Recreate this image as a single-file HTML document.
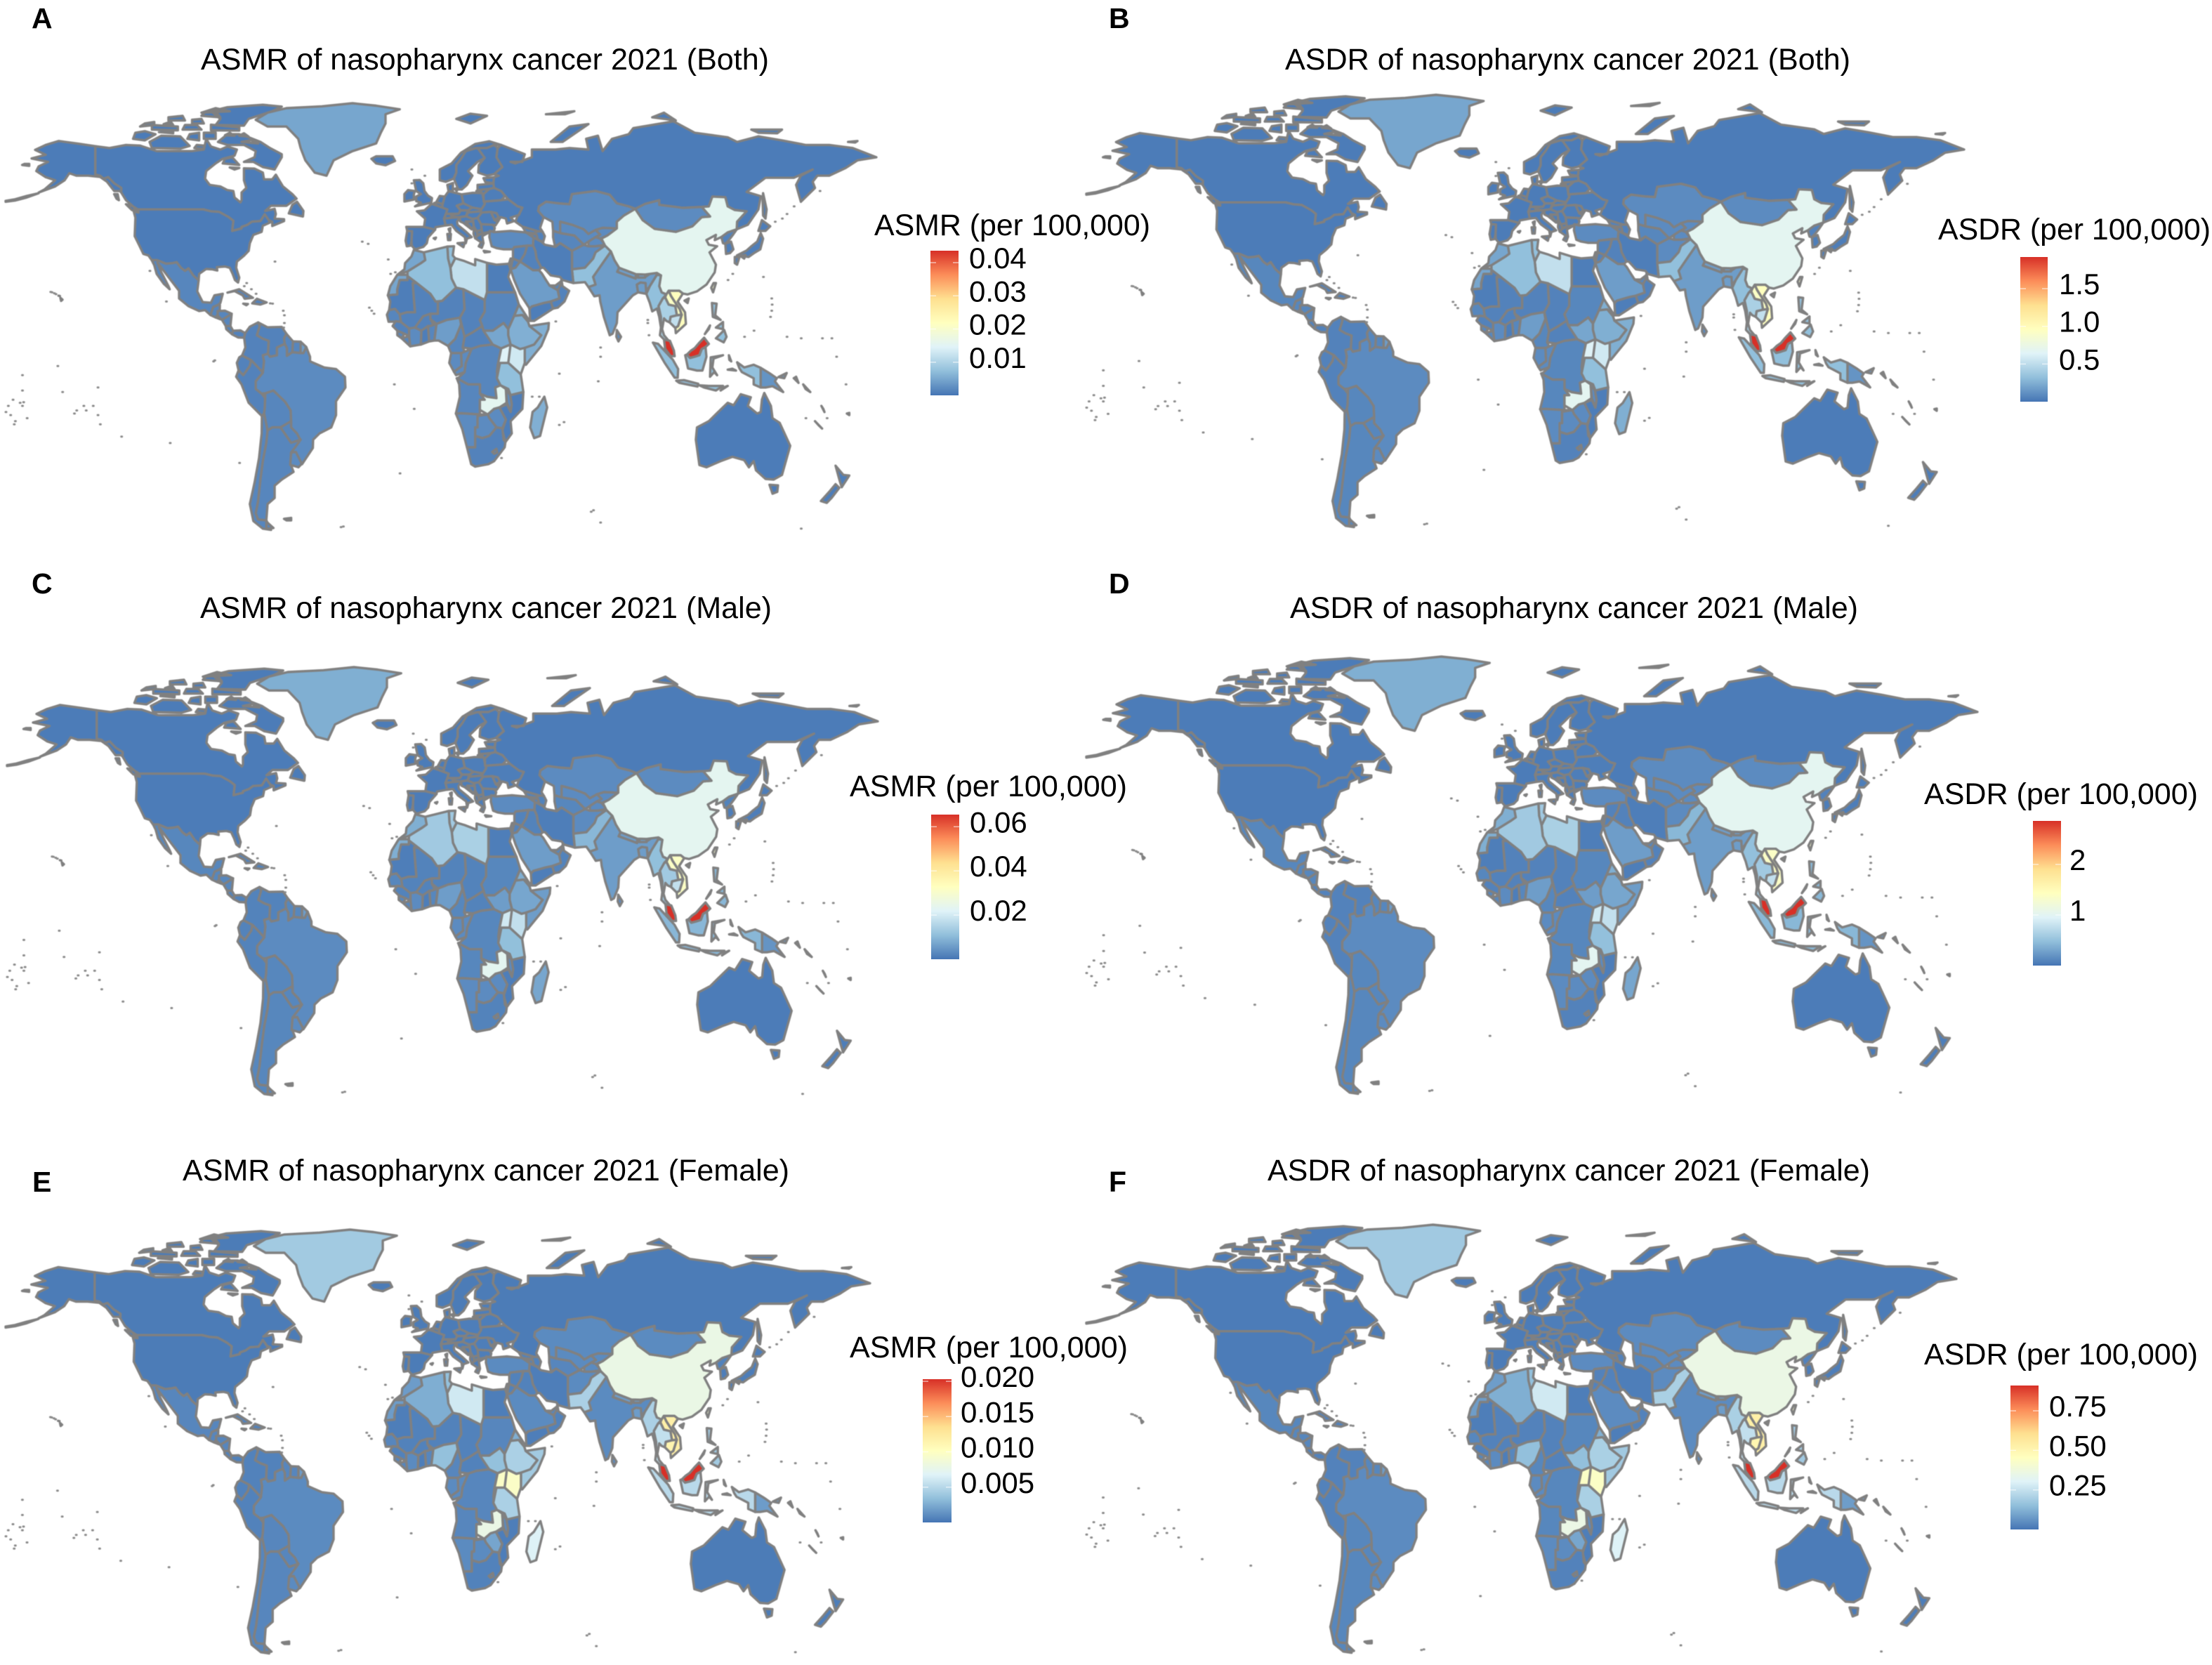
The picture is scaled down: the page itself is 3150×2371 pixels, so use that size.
<!DOCTYPE html>
<html lang="en">
<head>
<meta charset="utf-8">
<title>ASMR and ASDR of nasopharynx cancer 2021</title>
<style>
html,body{margin:0;padding:0;background:#fff;}
svg{display:block;}
text{font-family:"Liberation Sans",Arial,sans-serif;fill:#000;}
.title{font-size:43px;}
.legend-title{font-size:43px;}
.letter{font-size:41px;font-weight:bold;}
.tick{font-size:42px;}
</style>
</head>
<body>
<svg id="figure" xmlns="http://www.w3.org/2000/svg" width="3150" height="2371" viewBox="0 0 3150 2371">
<defs>
<linearGradient id="rdylbu" x1="0" y1="1" x2="0" y2="0">
<stop offset="0" stop-color="#4575b4"/><stop offset="0.1667" stop-color="#91bfdb"/><stop offset="0.3333" stop-color="#e0f3f8"/><stop offset="0.5" stop-color="#ffffbf"/><stop offset="0.6667" stop-color="#fee090"/><stop offset="0.8333" stop-color="#fc8d59"/><stop offset="1" stop-color="#d73027"/>
</linearGradient>
</defs>
<rect width="3150" height="2371" fill="#fff"/>

<g id="panel-0">
<text class="letter" x="45" y="40">A</text>
<text class="title" x="286" y="99" textLength="809" lengthAdjust="spacingAndGlyphs">ASMR of nasopharynx cancer 2021 (Both)</text>
<text class="legend-title" x="1245" y="335" textLength="393" lengthAdjust="spacingAndGlyphs">ASMR (per 100,000)</text>
</g>
<g id="panel-1">
<text class="letter" x="1579" y="40">B</text>
<text class="title" x="1830" y="99" textLength="805" lengthAdjust="spacingAndGlyphs">ASDR of nasopharynx cancer 2021 (Both)</text>
<text class="legend-title" x="2760" y="341" textLength="388" lengthAdjust="spacingAndGlyphs">ASDR (per 100,000)</text>
</g>
<g id="panel-2">
<text class="letter" x="45" y="845">C</text>
<text class="title" x="285" y="880" textLength="814" lengthAdjust="spacingAndGlyphs">ASMR of nasopharynx cancer 2021 (Male)</text>
<text class="legend-title" x="1210" y="1134" textLength="395" lengthAdjust="spacingAndGlyphs">ASMR (per 100,000)</text>
</g>
<g id="panel-3">
<text class="letter" x="1579" y="845">D</text>
<text class="title" x="1837" y="880" textLength="809" lengthAdjust="spacingAndGlyphs">ASDR of nasopharynx cancer 2021 (Male)</text>
<text class="legend-title" x="2740" y="1145" textLength="390" lengthAdjust="spacingAndGlyphs">ASDR (per 100,000)</text>
</g>
<g id="panel-4">
<text class="letter" x="46" y="1697">E</text>
<text class="title" x="260" y="1681" textLength="864" lengthAdjust="spacingAndGlyphs">ASMR of nasopharynx cancer 2021 (Female)</text>
<text class="legend-title" x="1210" y="1933" textLength="396" lengthAdjust="spacingAndGlyphs">ASMR (per 100,000)</text>
</g>
<g id="panel-5">
<text class="letter" x="1579" y="1697">F</text>
<text class="title" x="1805" y="1681" textLength="858" lengthAdjust="spacingAndGlyphs">ASDR of nasopharynx cancer 2021 (Female)</text>
<text class="legend-title" x="2740" y="1943" textLength="390" lengthAdjust="spacingAndGlyphs">ASDR (per 100,000)</text>
</g>
</svg>

<script>
/* ---------- chart data: one value per country ---------- */
const countries = [
"canada","usa","mexico","guatemala","honduras","el-salvador","nicaragua","costa-rica","panama","cuba",
"hispaniola","jamaica","colombia","venezuela","guyana","suriname","french-guiana","ecuador","peru","bolivia",
"chile","argentina","paraguay","uruguay","brazil","greenland","iceland","norway","sweden","finland",
"denmark","uk","ireland","france","spain","portugal","belgium","netherlands","germany","switzerland",
"austria","italy","poland","czechia","slovakia","hungary","croatia","bosnia","serbia","albania",
"north-macedonia","greece","bulgaria","romania","moldova","ukraine","belarus","lithuania","latvia","estonia",
"russia","turkey","georgia","armenia","azerbaijan","kazakhstan","uzbekistan","turkmenistan","kyrgyzstan","tajikistan",
"afghanistan","pakistan","iran","iraq","syria","jordan","israel","saudi-arabia","yemen","oman",
"uae","egypt","libya","tunisia","algeria","morocco","western-sahara","mauritania","mali","niger",
"chad","senegal","guinea","sierra-leone","liberia","cote-divoire","burkina-faso","ghana","togo-benin","nigeria",
"cameroon","central-african-republic","gabon","congo","dr-congo","sudan","south-sudan","eritrea","ethiopia","somalia",
"kenya","uganda","rwanda-burundi","tanzania","angola","zambia","malawi","mozambique","zimbabwe","namibia",
"botswana","south-africa","lesotho","madagascar","sri-lanka","india","nepal","bhutan","bangladesh","china",
"mongolia","taiwan","north-korea","south-korea","japan","myanmar","thailand","laos","vietnam","cambodia",
"malaysia","indonesia","papua-new-guinea","philippines","australia","new-zealand","new-caledonia"];

const asmrBoth = [
.0007,.0007,.0017,.0017,.0017,.0017,.0017,.0013,.0013,.0013,
.0013,.0013,.0013,.0013,.0017,.0017,.0039,.0013,.0013,.0017,
.0017,.0017,.0017,.0022,.0022,.0048,.0007,.0007,.0007,.0007,
.0007,.0007,.0007,.0007,.0007,.0007,.0007,.0007,.0007,.0007,
.0007,.0009,.0009,.0009,.0009,.0009,.0009,.0009,.0009,.0009,
.0009,.0009,.0009,.0009,.0009,.0009,.0009,.0009,.0009,.0009,
.0007,.0022,.0013,.0013,.0013,.0022,.0022,.0017,.0022,.0022,
.0022,.0074,.0009,.0013,.0013,.0013,.0013,.0039,.0009,.0013,
.0017,.0009,.0118,.0074,.0074,.0048,.0048,.0009,.0013,.0013,
.0013,.0017,.0013,.0017,.0017,.0022,.0013,.0009,.0017,.0039,
.0017,.0013,.0022,.0022,.0017,.0017,.0048,.0057,.0057,.0057,
.0131,.0144,.0017,.0074,.0017,.0155,.0022,.0009,.0022,.0022,
.0022,.0013,.0017,.0057,.0022,.0039,.0039,.0039,.0039,.0155,
.0022,.0196,.0013,.0009,.0009,.0074,.0096,.0209,.0218,.0118,
.0436,.0074,.003,.0074,.0007,.0009,.0013];

const asdrBoth = [
.029,.029,.077,.077,.077,.077,.077,.058,.058,.058,
.058,.058,.058,.058,.077,.077,.173,.058,.058,.077,
.077,.077,.077,.096,.096,.211,.029,.029,.029,.029,
.029,.029,.029,.029,.029,.029,.029,.029,.029,.029,
.029,.038,.038,.038,.038,.038,.038,.038,.038,.038,
.038,.038,.038,.038,.038,.038,.038,.038,.038,.038,
.029,.096,.058,.058,.058,.096,.096,.077,.096,.096,
.096,.326,.038,.058,.058,.058,.058,.173,.038,.058,
.077,.038,.518,.326,.326,.211,.211,.038,.058,.058,
.058,.077,.058,.077,.077,.096,.058,.038,.077,.173,
.077,.058,.096,.096,.077,.077,.211,.25,.25,.25,
.576,.634,.077,.326,.077,.682,.096,.038,.096,.096,
.096,.058,.077,.25,.096,.173,.173,.173,.173,.682,
.096,.864,.058,.038,.038,.326,.422,.92,.96,.518,
1.92,.326,.134,.326,.029,.038,.058];

const asmrMale = [
.001,.001,.0026,.0026,.0026,.0026,.0026,.002,.002,.002,
.002,.002,.002,.002,.0026,.0026,.0059,.002,.002,.0026,
.0026,.0026,.0026,.0033,.0033,.0085,.001,.001,.001,.001,
.001,.001,.001,.001,.001,.001,.001,.001,.001,.001,
.001,.0013,.0013,.0013,.0013,.0013,.0013,.0013,.0013,.0013,
.0013,.0013,.0013,.0013,.0013,.0013,.0013,.0013,.0013,.0013,
.001,.0033,.002,.002,.002,.0033,.0033,.0026,.0033,.0033,
.0033,.0098,.0013,.002,.002,.002,.002,.0059,.0013,.002,
.0026,.0013,.0144,.0131,.0131,.0085,.0085,.0013,.002,.002,
.002,.0026,.002,.0026,.0026,.0033,.002,.0013,.0026,.0059,
.0026,.002,.0033,.0033,.0026,.0026,.0059,.0085,.0072,.0059,
.0177,.0197,.0026,.0111,.0026,.0233,.0033,.0013,.0033,.0033,
.0033,.002,.0026,.0072,.0033,.0059,.0059,.0059,.0059,.0233,
.0033,.0295,.002,.0013,.0013,.0111,.0131,.0314,.0314,.0177,
.0655,.0098,.0046,.0098,.001,.0013,.002];

const asdrMale = [
.043,.043,.114,.114,.114,.114,.114,.086,.086,.086,
.086,.086,.086,.086,.114,.114,.257,.086,.086,.114,
.114,.114,.114,.143,.143,.372,.043,.043,.043,.043,
.043,.043,.043,.043,.043,.043,.043,.043,.043,.043,
.043,.057,.057,.057,.057,.057,.057,.057,.057,.057,
.057,.057,.057,.057,.057,.057,.057,.057,.057,.057,
.043,.143,.086,.086,.086,.143,.143,.114,.143,.143,
.143,.429,.057,.086,.086,.086,.086,.257,.057,.086,
.114,.057,.629,.572,.572,.372,.372,.057,.086,.086,
.086,.114,.086,.114,.114,.143,.086,.057,.114,.257,
.114,.086,.143,.143,.114,.114,.257,.372,.315,.257,
.772,.858,.114,.486,.114,1.015,.143,.057,.143,.143,
.143,.086,.114,.315,.143,.257,.257,.257,.257,1.015,
.143,1.29,.086,.057,.057,.486,.572,1.37,1.37,.772,
2.86,.429,.2,.429,.043,.057,.086];

const asmrFemale = [
.0003,.0003,.0008,.0008,.0008,.0008,.0008,.0006,.0006,.0006,
.0006,.0006,.0006,.0006,.0008,.0008,.0018,.0006,.0006,.0008,
.0008,.0008,.0008,.001,.001,.0041,.0003,.0003,.0003,.0003,
.0003,.0003,.0003,.0003,.0003,.0003,.0003,.0003,.0003,.0003,
.0003,.0004,.0004,.0004,.0004,.0004,.0004,.0004,.0004,.0004,
.0004,.0004,.0004,.0004,.0004,.0004,.0004,.0004,.0004,.0004,
.0003,.001,.0006,.0006,.0006,.001,.001,.0008,.001,.001,
.001,.0045,.0004,.0006,.0006,.0006,.0006,.001,.0004,.0006,
.0008,.0004,.0061,.0035,.0026,.0018,.0018,.0004,.0006,.0006,
.0006,.0008,.0006,.0008,.0008,.001,.0006,.0004,.0008,.0035,
.0008,.0006,.001,.001,.0008,.0008,.0035,.0026,.0045,.0041,
.0097,.0097,.0008,.0045,.0008,.0079,.001,.0004,.0022,.001,
.001,.0006,.0008,.0067,.001,.001,.0018,.0018,.0018,.0079,
.001,.0091,.0006,.0004,.0004,.0045,.0055,.0118,.0118,.0112,
.0203,.0051,.0018,.0041,.0003,.0004,.0006];

const asdrFemale = [
.014,.014,.036,.036,.036,.036,.036,.027,.027,.027,
.027,.027,.027,.027,.036,.036,.082,.027,.027,.036,
.036,.036,.036,.046,.046,.182,.014,.014,.014,.014,
.014,.014,.014,.014,.014,.014,.014,.014,.014,.014,
.014,.018,.018,.018,.018,.018,.018,.018,.018,.018,
.018,.018,.018,.018,.018,.018,.018,.018,.018,.018,
.014,.046,.027,.027,.027,.046,.046,.036,.046,.046,
.046,.2,.018,.027,.027,.027,.027,.046,.018,.027,
.036,.018,.273,.155,.118,.082,.082,.018,.027,.027,
.027,.036,.027,.036,.036,.046,.027,.018,.036,.155,
.036,.027,.046,.046,.036,.036,.155,.118,.2,.182,
.437,.437,.036,.2,.036,.355,.046,.018,.1,.046,
.046,.027,.036,.3,.046,.046,.082,.082,.082,.355,
.046,.41,.027,.018,.018,.2,.246,.528,.528,.5,
.91,.228,.082,.182,.014,.018,.027];

/* legend scales */
const domainMax = [.0436,1.92,.0655,2.86,.0203,.91];
const tickValues = [[.01,.02,.03,.04],[.5,1,1.5],[.02,.04,.06],[1,2],[.005,.01,.015,.02],[.25,.5,.75]];
const tickLabels = [["0.01","0.02","0.03","0.04"],["0.5","1.0","1.5"],["0.02","0.04","0.06"],["1","2"],["0.005","0.010","0.015","0.020"],["0.25","0.50","0.75"]];
const panelSeries = [asmrBoth,asdrBoth,asmrMale,asdrMale,asmrFemale,asdrFemale];
const palette = [[69,117,180],[145,191,219],[224,243,248],[255,255,191],[254,224,144],[252,141,89],[215,48,39]];

/* geography: lon,lat rings per country ("|" separates rings) */
const countryShapes = [
"-141,69.6 -135,69 -128,70 -122,69.8 -115,68 -108,68 -100,68 -95,68.5 -94,72 -92,69.5 -88,68.5 -85,69.5 -81,68.5 -82,66.5 -87,65.5 -90,64 -94,61.5 -94.5,59 -92.5,57 -88,56.5 -85,55.3 -82.5,55 -82,52.9 -79.5,51.3 -79,52 -79,54.5 -77,56 -78,58.5 -78,62.4 -73.5,62.3 -70,61 -69.5,58.8 -66,58.8 -64.5,60.3 -61.5,56.5 -57.5,54 -55.7,52.5 -60,50.2 -66.5,50.2 -69,48.5 -65,49.2 -64.5,47.5 -65,46 -61,45.8 -61,45.2 -66,43.6 -66,45 -67.5,45.5 -69.2,47.4 -71,45.2 -74.7,45 -76.5,44 -79,43.3 -79,42.8 -83,42 -82.5,45.3 -84.5,46.5 -88.5,48.2 -92,48.4 -95.2,49 -123,49 -125,50 -128,52 -130,54.5 -133,57 -135.5,59.5 -137.5,59 -139,60 -141,60.3|-62,66 -65,62 -70,62.8 -74,64.5 -78,64.5 -73.5,66 -73,68 -78,70 -85,70 -89,71 -85,73.5 -80,73.5 -76,72.5 -71,71 -67,69 -62,67|-117,69 -105,68.8 -101,69.7 -105,72.8 -113,73 -118,71|-125,72 -120,71.5 -115.5,73.5 -120,74.5 -124,74|-90,76.5 -78,76.3 -76,78.5 -66,81 -62,82.5 -70,83.1 -85,82.3 -92,81 -88,78.5|-92,74.8 -80,74.7 -80,75.7 -92,76.6|-96,79.5 -88,79 -90,81 -94,81|-95,72 -90,72 -90,74 -95,74|-117,75 -106,74.8 -106,76 -117,76.5|-122,76 -116,76.5 -116,77.5 -120,77|-104,75 -96,75 -98,76.5 -103,76.5|-87,64 -80,63.5 -83,66 -86,65.5|-59,47.7 -53,46.7 -52.8,48.5 -55.5,51.5 -57.5,50.5|-128,50.7 -125,50 -123.5,48.4 -125.5,48.8|-133,54 -131.5,54 -131,52 -132,52.5|-110,78 -103,78 -104,79.5 -110,79|-100,77 -95,77 -96,78.5 -100,78.2|-102,72 -97,71.5 -97,74 -101,73.5|-99,69 -95,68.7 -95,69.8 -98,70|-80,73 -76,72.7 -78,73.8|-84,62.7 -80,62.5 -82,62|-114,74.2 -108,73.8 -108,74.6 -113,74.9|-112,76.8 -108,76.5 -109,77.6|-86,73.2 -82,73 -84,74|-96,80.5 -84,81 -90,82|-79,71 -72,70.5 -75,71.6",
"-123,49 -95.2,49 -92,48.4 -88.5,48.2 -84.5,46.5 -82.5,45.3 -83,42 -79,42.8 -79,43.3 -76.5,44 -74.7,45 -71,45.2 -69.2,47.4 -67.5,45.5 -67,44.7 -70,43.7 -70.5,41.7 -74,40.7 -75.5,38 -76,35.5 -78,33.9 -81,32 -81.3,30 -80,26.8 -80.5,25.2 -81.8,26 -82.8,28 -84,30 -86,30.4 -89.5,30.2 -89.3,29.1 -91.5,29.5 -94,29.6 -97,28 -97.2,25.9 -99.5,27.5 -101.5,29.8 -103,29 -104.7,30 -106.5,31.8 -108.2,31.5 -111,31.3 -114.8,32.5 -117.1,32.5 -118.5,34 -120.6,34.5 -122.5,37.5 -124.3,40.3 -124,46.3 -124.7,48.3 -122.7,48|-141,69.6 -148,70.4 -156.5,71.3 -162,70 -166.5,68.4 -162,66.8 -168,65.6 -161,64.5 -165,63 -166,61.5 -162,59.5 -158,58.5 -162.5,55.5 -165,54.5 -158,56.5 -154,58.5 -152,60.8 -149,60 -144,60 -139,59.6 -136,58 -133,55 -130,55 -130,56 -133,57.5 -135.5,59.5 -137.5,59 -139,60 -141,60.3|-165,54.3 -170,52.9 -175,51.9 -179,51.5 -179,51.8 -175,52.3 -170,53.4|-172,63.5 -169,63.2 -169,63.8 -171,63.8|-155.5,19.2 -154.9,19.6 -155.8,20.2|-156.6,20.9 -156,20.8",
"-117.1,32.5 -114.8,32.5 -111,31.3 -108.2,31.5 -106.5,31.8 -104.7,30 -103,29 -101.5,29.8 -99.5,27.5 -97.2,25.9 -97.8,22.3 -95.5,18.8 -92,18.6 -90.5,21 -87,21.5 -88,18.5 -89,17.9 -91,17.2 -92.2,14.6 -94.5,16.2 -97,15.9 -101.5,17.5 -105.5,20 -105.5,22.5 -109,26 -112.5,29.5 -114.7,31.7 -113,28.5 -110,24 -109.5,23 -112,24.8 -115,28 -116,30.8",
"-92.2,14.6 -91,17.2 -89.2,17.8 -88.2,17.9 -88.3,15.7 -90,13.8",
"-89.2,15.9 -86,16 -83.2,15 -87.3,13 -89,14",
"-90,13.8 -88,13.2 -87.8,13.4 -89,14.3",
"-87.3,13 -83.2,15 -83.7,11 -85.7,11",
"-85.7,11 -83.7,11 -82.6,9.5 -83,8.3 -85.5,10",
"-83,8.3 -82.6,9.5 -79.5,9.6 -77.5,8.7 -77.9,7.2 -80.5,7.3",
"-85,21.9 -80,23 -74.2,20.2 -77.7,19.9 -78.5,21 -82,22.4",
"-74.5,18.4 -72.5,19.9 -68.4,18.7 -71,18",
"-78.3,18.3 -76.3,18.2 -77,17.8",
"-77.5,8.7 -75.5,10.8 -72,12.2 -71.3,11 -72.5,8 -70,6.9 -67.5,6.2 -67.8,2 -70,1.5 -69.5,-0.5 -70,-4.2 -72,-2.5 -75,-0.1 -78.8,1.4 -77.4,4 -77.9,7.2",
"-72,12.2 -68,10.6 -62,10.7 -60,8.5 -61,7 -60.7,5.2 -64,4 -64,1.5 -67,1 -67.8,2 -67.5,6.2 -70,6.9 -72.5,8 -71.3,11",
"-60,8.5 -57.2,6 -57.5,2.5 -59.8,1.3 -59.8,3.8 -60.7,5.2 -61,7",
"-57.2,6 -54,5.9 -54,2.2 -57.5,2.5",
"-54,5.9 -51.6,4.2 -52.8,2.2 -54,2.2",
"-78.8,1.4 -75,-0.1 -75.5,-2 -78.3,-5 -80.3,-3.4 -81,-1 -80,0.8",
"-80.3,-3.4 -78.3,-5 -75.5,-2 -75,-0.1 -72,-2.5 -70,-4.2 -73,-7 -73,-9.5 -70.5,-11 -69,-12.5 -69.2,-16 -69.5,-17.5 -70.4,-18.3 -76,-14 -79,-8 -81.3,-5.5",
"-69,-10.9 -65.5,-10 -60.5,-13.7 -58.2,-16.5 -58,-20 -62.5,-22 -66,-22 -68,-23 -69.5,-17.5 -69.2,-16 -69,-12.5",
"-70.4,-18.3 -69.5,-17.5 -68,-23 -68.5,-27 -70,-33 -71,-39 -72,-46 -73,-50 -72,-52 -68.5,-52.3 -66.5,-55.4 -70,-55 -74,-52.5 -75.5,-47 -73.5,-40 -71.6,-32 -70.5,-24",
"-66,-22 -62.5,-22 -58,-27 -54,-26 -55.8,-28 -58.3,-33.8 -57,-36.5 -62,-39 -65,-41 -65,-45 -68,-47 -68.5,-52.3 -72,-52 -73,-50 -72,-46 -71,-39 -70,-33 -68.5,-27 -68,-23|-68.5,-52.7 -65.5,-54.8 -68.5,-55|-61,-51.8 -58,-51.5 -58,-52.3 -60,-52.3",
"-62.5,-22 -58,-20 -58,-22 -55.5,-24 -54.5,-25.5 -54,-26 -58,-27",
"-58,-30.2 -56,-30 -53.3,-33.7 -54.9,-35 -58.4,-34.2",
"-51.6,4.2 -50,1 -50,-0.5 -44,-2.5 -39,-3 -35.2,-5.5 -35,-9 -39,-13.5 -39,-18 -41,-22 -46,-24 -48.7,-26 -48.8,-28.7 -53.4,-34 -56,-30 -58,-30.2 -55.8,-28 -54,-26 -54.5,-25.5 -55.5,-24 -58,-22 -58,-20 -58.2,-16.5 -60.5,-13.7 -65.5,-10 -69,-10.9 -70.5,-11 -73,-9.5 -73,-7 -70,-4.2 -69.5,-0.5 -70,1.5 -67.8,2 -67,1 -64,1.5 -64,4 -60.7,5.2 -59.8,3.8 -59.8,1.3 -57.5,2.5 -54,2.2 -52.8,2.2",
"-73,78.2 -68,80.5 -60,82 -45,82.6 -32,83.6 -22,82.8 -12,81.6 -18,80 -18,77 -20,74 -22,70.5 -32,68 -40,65 -43,60 -48,61 -52,65 -54,69 -55,72 -60,76 -68,76",
"-24,65.5 -22,64 -18,63.4 -14,64.8 -15,66.3 -22,66.3",
"5,58.5 7.5,58 10.8,59 12,61 12,63.5 14,65.5 16,68 20,69 25,69 28,70 31,70 26,71.2 20,70.3 14,67.5 10,64 5,62|12,78.5 18,77 25,79.5 18,80.2",
"11,59 12.8,55.5 14.3,55.5 16.5,57 18.8,60 17,61.5 21,64.5 24,65.8 23.5,68 20.5,69 16,68 14,65.5 12,63.5 12,61",
"21.3,61 25,60 28,60.5 31.5,62.8 29,66 29.5,69 28,70 25,69 21,69 24,65.8 21.5,63.5",
"8.2,57 10.6,57.6 10.5,55 8.7,54.9|11.2,55.7 12.5,56 12.2,55",
"-5.5,50 1.4,51.2 1.7,52.7 0,53.5 -1.5,55 -2,57.5 -3.5,58.6 -6,58.5 -5,55 -3,54 -5,53.2 -5,51.7 -3,51.2",
"-10,51.6 -6,52.2 -6,54 -5.5,55 -8.5,55.3 -10,54",
"-4.7,48.4 -1.5,48.7 1.5,50.8 4,50.2 8.2,49 7.6,47.6 6.8,46 7.5,43.8 3.2,43.2 3,42.4 -1.7,43.3 -1.2,46|8.7,42.6 9.5,42.9 9.3,41.4",
"-9.2,43.3 -1.7,43.3 3,42.4 0,39.8 -0.5,38 -2,36.8 -5.5,36 -6.9,37.2 -7,38.9 -6.8,41.9 -8.8,42|2.4,39.6 3.4,39.8 3,39.3",
"-8.8,42 -6.8,41.9 -7,38.9 -7.4,37.2 -9,37 -9.5,38.8",
"2.6,51.1 4,50.2 6,49.6 6.2,50.7 4.3,51.4",
"3.5,51.4 6.2,50.7 7.1,53.2 5,53.4",
"6.2,50.7 6,49.6 8.2,49 7.6,47.6 13,47.6 13.8,48.7 12.2,50.2 15,51 14.2,53.9 9.5,54.8 8.7,54.9 7.1,53.2",
"6.8,46 7.6,47.6 10,47.4 10,46.3",
"9.6,47.4 13,47.6 13.8,48.7 17,48.7 16.1,46.8 13,46.5 10,46.8",
"6.8,46 10,46.3 13.5,46.5 12.3,45 12.5,44 16,41.8 18.5,40 16.5,39.5 16,38 15.6,40 12,42 10,44 7.5,43.8|12.5,38 15.6,38.2 15,36.7|8.2,41 9.7,41 9.5,39 8.5,39",
"14.2,53.9 19,54.4 23,54.3 24,50.7 22.7,49.1 19,49.4 15,51",
"12.2,50.2 15,51 18.8,49.6 17,48.7 13.8,48.7",
"17,48.7 18.8,49.6 22.5,49.1 22,48.4 18,47.8",
"16.1,46.8 17,48 22,48.4 22.8,48 21,46.2 18.8,45.9",
"13.5,46.5 16.1,46.8 18.8,45.9 19.2,45.1 17,45.1 18.5,42.5 15,44.6 13.6,45.1",
"16,45.1 19.2,45 19.4,43.5 18.5,42.6",
"18.8,45.9 21,46.2 22.5,44.4 22.8,42.3 20.6,41.9 19.4,43.5 19.2,45",
"19.4,42.6 20.6,41.9 21,40.4 20,39.6 19.3,41",
"20.6,41.9 22.8,42.3 23,41.2 21,40.9",
"21,40.4 23,41.2 26.3,41.7 23,40.3 23.5,38 22.8,36.5 21.5,37 22.5,38.3 20,39.6|23.6,35.5 26.2,35.2 24,35",
"22.5,44.2 27.5,44 28.3,43 28,42 26.3,41.7 23,41.2 22.8,42.3",
"21,46.2 22.8,48 26.6,48.2 28.2,45.5 29.6,45 28.6,43.8 27.5,44 22.5,44.2",
"26.6,48.2 29,47.8 30,46.4 28.2,45.5",
"22.2,48.4 22.7,49.1 24,50.7 24,51.6 31,52 34,52.3 38,50 40,49.6 38.5,47.2 35,46.3 36.5,45.2 33.5,44.4 33,46 30.8,46.5 29.6,45 28.2,45.5 30,46.4 29,47.8 26.6,48.2 22.8,48",
"23.6,51.6 24,51.6 31,52 32.7,53.4 31,55 28,56 26,55.7 23.5,54",
"21,55.3 26,55.7 23.5,54 22.8,54.4",
"21,57 24.3,57.2 27.7,57.5 28,56 26,55.7 21,55.3",
"23.5,59.2 28,59.5 27.7,57.5 24.3,57.9",
"28,59.5 30,60 28,60.5 31.5,62.8 29,66 29.5,69 31,70 33,69.4 41,67 40,64.5 35,64.5 37,64 44,66 44,68.5 54,68.5 60,69 68,68.5 67,72 72,73 74,68 78,72 85,73.5 87,75.5 104,77.7 113,74 127,72.5 131,71 140,72.8 150,71.5 160,70 170,70 180,69 190,66 182,65 177,62.5 170,60 165,60 163,58 164,56 158,51.5 156,57 158,60 163,62 155,59.3 143,59.3 135,54.7 141,53.3 140,49 135.5,44 130.8,42.5 131,45 135,48.4 130,48.8 127,50 126,53 120.5,53.2 119,50 116,49.8 108,49.5 98,50.5 98,52 92,50.8 87.8,49.2 85,50 80,51 77,53.8 71,55 61,54 60,50.7 55,51 50,51.5 47,50 46.7,48.5 49,46.5 47.5,43 48.5,41.8 46.5,41.9 40,43.4 37,45 38,47 38.5,47.2 40,49.6 38,50 34,52.3 32.7,53.4 31,55 28,56 27.7,57.5|142,54.3 143.5,49 143,46 142,47 141.8,52|52,71 57,71 68,76.8 60,76|95,79 105,78 100,80.5|137,75 150,75 148,73.8 140,74|178,71 182,71.3 181,70.8|50,80 62,81 58,80|20.5,55 22.5,55 22.5,54.4",
"26,40 26.2,42 28,41.6 35,42 41.5,41.5 44.7,39.8 44.5,37.2 42,37.2 36.5,36.7 36,36 32,36 29,36.4 27,37",
"40,43.4 46.5,41.9 45,41.2 41.5,41.5",
"43.5,41.2 46,40.8 46.5,39.2 44.7,39.8",
"45,41.2 46.5,41.9 48.5,41.8 49.5,40.3 48.8,38.4 46.5,39.2 46,40.8",
"47,50 50,51.5 55,51 60,50.7 61,54 71,55 77,53.8 80,51 85,50 87.8,49.2 83,47 80,45 80,42.8 74,43 71,42.3 68,41 66,42.5 61,44 56,45 56,41.3 53,42 52.7,45 49,46.5 46.7,48.5",
"56,45 61,44 66,42.5 68,41 71,42.3 73,40.8 71,40 68,38.5 66,37.5 64,39 62,40.5 56,41.3",
"53,42 56,41.3 62,40.5 64,39 66,37.5 61,35.5 56,38 53.8,37 53,40",
"71,42.3 74,43 80,42.8 76,40.5 73,39.5 71,40 73,40.8",
"68,38.5 71,40 73,39.5 75,37.5 71,37 68,37",
"61,35.5 66,37.5 68,37 71,37 75,37.2 71,35 70,33 66.5,30 61,29.5 61,33.5",
"61,29.5 66.5,30 70,33 71,35 75,37.2 77.5,35.3 74.5,32 70,27 71,24.5 68,23.7 66.5,25.3 61.6,25",
"44.5,37.2 44.7,39.8 48,38.5 49.5,37.5 54,36.8 56,38 61,35.5 61,33.5 61,29.5 61.6,25 57,26 56,27 52,27.5 49,30 48,30 46,33 45.5,35.5",
"42,37.2 44.5,37.2 45.5,35.5 46,33 48,30 47,29.2 44.5,29.2 39,32 41,34.5",
"36,36 36.5,36.7 42,37.2 41,34.5 39,32 36,33",
"36,33 39,32 37,30 35,29.5 35.5,31.5",
"34.3,31.3 35,29.5 35.5,31.5 36,33 35,33",
"35,29.5 37,30 39,32 44.5,29.2 47,29.2 48.2,28.2 50,26 51.5,24.2 55,22.7 55.7,20 52,19 49,18.5 44,17.4 43,16.5 42.8,17 39,21.5 36.5,26",
"43,16.5 44,17.4 49,18.5 52,19 53,16.7 45,12.7 43.3,12.7",
"52,19 55.7,20 55,22.7 56.2,24.5 56.5,26.2 57,24 59.8,22.5 57.8,19 55,17 53,16.7",
"51.5,24.2 54,24.2 56.2,25.5 56.2,24.5 55,22.7",
"25,31.6 29,31 34.2,31.3 35,29.5 34,27 36.9,22 25,22",
"9.5,30 11.5,33.1 15,32.3 20,30.8 20,32.8 25,31.6 25,20 24,19.5 15,23 11.9,23.5 10,26.5",
"8.2,32 8.5,33 8.2,36.9 11,37 10.5,34 11.5,33.1 9.5,30",
"-1.8,35 8.2,36.9 8.5,33 9.5,30 10,26.5 11.9,23.5 6,19.2 3.2,19 1,21.5 -4.8,25 -8.7,27.3 -8.7,28.8 -3,31.5 -1.2,32.5",
"-6,35.8 -1.8,35 -1.2,32.5 -3,31.5 -8.7,28.8 -13,27.7 -10,29.5 -9.7,31.5 -7,33.7",
"-13,27.7 -8.7,27.7 -8.7,26 -12,26 -13,23 -13,21.3 -17,21 -16,24",
"-17,21 -13,21.3 -13,23 -12,26 -8.7,26 -8.7,27.3 -4.8,25 -6.5,25 -5.5,15.5 -9,15.5 -12,14.8 -14,16.6 -16.5,16.2 -16,19",
"-4.8,25 1,21.5 3.2,19 4.2,19 4.2,15 1,15 -2,14.2 -5.5,10.5 -8,10.2 -11.5,12.3 -12,14.8 -9,15.5 -5.5,15.5 -6.5,25",
"4.2,19 6,19.2 11.9,23.5 15,23 15.5,16.5 13.5,13.7 8,13 3.6,11.7 1,13.3 1,15 4.2,15",
"15,23 24,19.5 24,15.7 22,13 23,11 19,9 15.5,7.5 13.5,13.7 15.5,16.5",
"-16.5,16.2 -14,16.6 -12,14.8 -11.5,12.5 -16.7,12.4 -17.4,14.7",
"-15,11 -13.7,12.6 -11.5,12.3 -8,10.2 -8,7.7 -10,8.5 -13,9.5",
"-13,9.5 -10,8.5 -11.2,7 -13,8",
"-11.2,7 -8,7.7 -7.5,4.4",
"-8,7.7 -8,10.2 -5.5,10.5 -2.8,9.5 -3,5 -7.5,4.4",
"-5.5,10.5 -2,14.2 1,15 1,13.3 2.3,11.5 -2.8,9.5",
"-2.8,9.5 0,11 0.5,6 -3,5",
"0,11 1,11 3.6,11.7 2.7,6.3 0.5,6",
"3.6,11.7 8,13 13.5,13.7 14,11.5 11.5,6.8 8.5,4.5 4.5,6.3 2.7,6.3",
"8.5,4.5 11.5,6.8 14,11.5 13.5,13.7 15.5,7.5 14.7,4 16,2 9.8,2.2",
"14.7,4 15.5,7.5 19,9 23,11 27.4,5 22,4.5 18.5,3.6",
"9.8,2.2 14,2.2 14.3,-2 11,-3.9 9,-1",
"14,2.2 18.5,3.6 16,-1 15.5,-4 11.9,-5 11,-3.9 14.3,-2",
"18.5,3.6 22,4.5 27.4,5 31,3.7 29.6,-1.5 29.2,-6 30.7,-8.3 28.5,-9 29,-12.5 25,-12 22,-11 22,-8 17,-8 12.2,-6 13,-5.8 15.5,-4 16,-1",
"25,22 36.9,22 38.5,18 36.5,14.3 34,10 32,12 27.5,9.5 23.5,9.5 23,11 22,13 24,15.7 24,19.5",
"23.5,9.5 27.5,9.5 32,12 34,10 34,8 35,5 31,3.7 27.4,5",
"36.5,14.3 38.5,18 43,12.7 40,14.6",
"36.5,14.3 40,14.6 42.4,12.4 43,11 48,8 45,5 41.9,4 39,3.5 35,5 34,8 34,10",
"43,11 51.2,12 51,10 48,4.5 41.5,-1.6 41,-1 41,3.9 45,5 48,8",
"35,5 39,3.5 41,3.9 41,-1 39.3,-4.7 34,-1 34,4",
"31,3.7 35,5 34,-1 29.6,-1.5",
"29.6,-1.5 31,-1.2 30.5,-4.3 29.2,-4",
"30.5,-1 34,-1 39.3,-4.7 40.4,-10.5 35,-11.5 34,-9.5 30.7,-8.3 29.2,-6",
"12.2,-6 17,-8 22,-8 22,-11 24,-13 22,-13 22,-17.8 14,-17.4 11.8,-17.5 13.5,-12 13.2,-8",
"22,-11 25,-12 29,-12.5 28.5,-9 30.7,-8.3 33,-9.5 33.3,-14 30.3,-15.5 28,-16 25.3,-17.8 22,-16.3 22,-13 24,-13",
"33,-9.5 34.8,-11.5 35.5,-14.5 35,-17 33.5,-14",
"40.4,-10.5 35,-11.5 34.8,-11.5 35.5,-14.5 35,-17 33.5,-14.5 30.3,-15.5 33,-19.5 31.5,-23 32.8,-26.8 35.5,-24 35,-20 40,-16",
"25.3,-17.8 28,-16 30.3,-15.5 33,-19.5 31.5,-22.3 29,-22 26,-19",
"11.8,-17.5 14,-17.4 22,-17.8 25.3,-17.8 21,-18.3 21,-22 20,-22 20,-28.5 16.5,-28.5 14.5,-22.5",
"21,-18.3 25.3,-17.8 26,-19 29,-22 26,-24.8 23,-25.5 20,-24.8 20,-22 21,-22",
"16.5,-28.5 20,-28.5 20,-24.8 23,-25.5 26,-24.8 29,-22 31.5,-22.3 32,-26 32.8,-26.8 32.5,-28.5 28,-33 25.6,-34 20,-34.8 18.3,-34",
"27.2,-30 29,-29 29.3,-30.2 28,-30.6",
"49.3,-12 50.5,-15.5 47.5,-24.8 45,-25.5 43.3,-22 44.3,-17 46.5,-15.5",
"80,9.7 81.8,7.5 80.7,6 79.8,7.5",
"68,23.7 71,24.5 70,27 74.5,32 77.5,35.3 79,32.5 81,30 80.2,28.7 88,26.5 88.1,27.9 92,27 96,29 97,27.7 94,24 92.5,22.5 91.5,24 90,25.2 88.5,24.5 89,22 86.8,21 85,19.5 80.3,15.5 80,12 78.2,8.5 77,8 74.5,14 73,19 72.7,21 70.5,20.7 69,22.5",
"80.2,28.7 81,30 88.1,27.9 88,26.5",
"89,28 92,27.8 92,26.8 89,26.8",
"88.5,24.5 90,25.2 92.2,25 92.5,21.5 89,22",
"73.5,39.5 76,40.5 80,42.8 80,45 83,47 87.8,49.2 91,45.5 96,42.7 105,41.7 112,43.5 116,46.5 119.5,46.7 116,49.8 119,50 120.5,53.2 126,53 127,50 130,48.8 135,48.4 131,45 130.8,42.5 127,41.5 124.3,40 121.5,39 122,40.7 118,39 119,37.5 122.5,37 119.3,35 122,31 121.5,28.5 118,24.5 114,22.3 110,21.3 108,21.6 106.5,22.5 102,22.5 101,21.3 99,22 98,24 98.7,27.5 97,28.3 92,27.8 88.1,27.9 81,30 79,32.5 77.5,35.3 75,37.2|108.7,19.3 110.5,20 110,18.5",
"87.8,49.2 92,50.8 98,52 98,50.5 108,49.5 116,49.8 119.5,46.7 116,46.5 112,43.5 105,41.7 96,42.7 91,45.5",
"121,25 122,25 120.8,22 120,23.5",
"124.3,40 127,41.5 130.8,42.5 129,40.5 127.5,39 126,37.8 125,38",
"126,37.8 128.4,38.5 129.4,36 128,34.8 126.3,34.5",
"130.9,34 135,35.6 137,37 139.5,38.5 141,41.3 142,39.5 140.8,36 138,34.7 135.8,33.5 132,33.9|130,33.5 132,33.5 131,31 130,31.5|140,42 141.5,45.5 145,43.5 143,42|132.5,33.8 134.5,34.2 134,33",
"92.5,21.5 94,24 97,27.7 98.7,27.5 98,24 99,22 101,21.3 99.5,20 97.7,17.5 98.7,14 98.7,10.5 98,14 97,16.7 95,15.8 94,18.5",
"97.7,17.5 99.5,20 100.5,20.4 102,18 104.8,17.5 105.5,14.5 102.8,14 102.4,12.2 101,12.7 100,13.5 99.2,10 100,8 102,6.2 100.2,6.5 98.3,8 98.7,10.5 98.7,14",
"100.5,20.4 101,21.3 102,22.5 103,20.8 104.5,19 106.7,16.5 107.5,14.7 105.5,14.5 104.8,17.5 102,18",
"102,22.5 106.5,22.5 108,21.6 105.8,19 108.9,15.5 109.3,11.7 105,8.7 104.8,10.4 106,11 107.5,14.7 106.7,16.5 104.5,19 103,20.8",
"102.8,14 105.5,14.5 107.5,14.7 106,11 104.8,10.4 102.4,12.2",
"100,6.6 102.5,6.2 104.2,3 104.5,1.2 102.8,1.2 100.5,3.6|109.7,1.7 111.3,2.9 113,3.8 115,5.6 117,7.2 119,5.2 117.6,4.2 116,3.5 115,1.5 113,1 111,0.6",
"95.3,5.6 97.5,5.2 103.8,0 106,-3 105.8,-5.8 104.5,-5.8 100.3,-1|109,1.5 109.7,1.7 111,0.6 113,1 115,1.5 116,3.5 117.6,4.2 118,1 116.3,-3.5 114,-3.5 110.2,-2.8|105.2,-6.8 108.5,-6.6 114.5,-7.8 114.2,-8.7 106.5,-7.5|119.8,0.8 125,1.5 121,0.4 120.5,-2.5 122.5,-5 121.3,-4 119.5,-5.5|115,-8.3 119,-8.5 125,-8.5 122,-10 117,-9|124,-10 127,-8.5 126,-8.8|127.5,1.5 128.5,-0.5 127.7,0|127,-3.2 130.5,-3.5 129,-2.9|131,-0.8 134,-2.5 138,-1.6 141,-2.6 141,-9 138,-8 138,-6 133,-4 132,-2.8",
"141,-2.6 145,-4.5 147.8,-6 147,-7 150.5,-10.5 146,-8.6 143,-9 141,-9|148.5,-5.6 152,-4.3 151,-6|155,-6 157,-7.5 156,-5.5|159,-8 162,-10.5 160,-9.5",
"120.3,18.5 122.3,18.3 121.7,14.5 124,13 120.7,14|122,7 125.5,9.7 126.5,7.5 125.3,5.7|122,10.5 125,12.3 125,10|117.3,8.4 119.5,11.2 119,10",
"114,-22 113.5,-26 115,-34.3 118,-35 124,-33 129,-31.6 134,-32.7 136,-35 138,-33 139,-36 143,-38.8 146.5,-39 150,-37.5 153.5,-28 149,-20.5 146,-19 145.3,-15 142.5,-10.8 141.5,-13 141,-17 139.5,-17.5 135.5,-15 136.8,-12.2 132.5,-11.2 129.5,-14.8 127,-14 122.3,-17.5 119,-20|144.7,-40.7 148.3,-40.9 148,-43 146,-43.6",
"172.7,-34.5 176,-37.5 178.5,-37.7 175.3,-41.5 174.5,-39.5|172.7,-40.5 174.3,-41.7 171,-45 169,-46.6 166.5,-46 170,-43",
"164,-20 167,-22.4 165.5,-21.3|166.7,-15 168,-17 167.5,-16|177.5,-17.5 178.5,-18 178.5,-17.3"
];

const islandSpecks = "-178,-15 -177,-18 -175,-20 -176,-13 -179,-17 -173,-14 -171.5,-13.8 -172,-10 -170,-19 -175.5,-21 -172,-5 -157,-2 -150,-17.5 -149,-16.5 -146,-15 -145,-16.5 -142,-15 -140,-18 -139,-21 -140,-9 -155,-10.5 -130,-25 -109.4,-27.1 -157.8,21.4 -159.5,22 -158.5,21.7 -160,22.1 145,14 145.5,16 145.7,18 145.5,20 134,7.5 138,9.5 152,7.5 158,7 167,7 171,7 173,1 177,-8 72,-7 73,4 73,1 55.5,-4.5 57.5,-20.3 55.5,-21.2 44,-12 -24,16 -23,15 -25,17 -16,28 -14,28.5 -28,38.5 -25.5,37.8 -17,32.7 -65,32 -91,-0.5 -90.5,-0.2 70,-49 69,-49.5 -37,-54.5 -36,-54.3 -12,-37 -6,-16 -14.4,-8 93,12 93,13 93.5,8 127,26 129,28 142,27 147,45 150,46 152,47.5 155,50 166,55 54,12.5 -7,62 -1.5,60 -7,57.5 -111,19 -118,29 -61.5,16 -61,14.5 -61,12 -61.3,10.5 -77,25 -78,24 -75,23 -73,21.5 -66,18.3 -67,18.4 47,-12 -80,-33.6 31,-32 -172,-15 160,-19 169,-19 158,-55 73,-53";

/* ---------- layout (pixel frame of each panel) ---------- */
const panelLayout = [
  {left:8,   wide:1240, top:147,  tall:608, barX:1325, barW:40, barTop:357,  barH:206, labelX:1380},
  {left:1547,wide:1250, top:135,  tall:616, barX:2877, barW:39, barTop:366,  barH:206, labelX:2932},
  {left:10,  wide:1240, top:950,  tall:610, barX:1326, barW:40, barTop:1160, barH:206, labelX:1381},
  {left:1547,wide:1269, top:935,  tall:623, barX:2895, barW:40, barTop:1169, barH:206, labelX:2947},
  {left:8,   wide:1231, top:1751, tall:604, barX:1314, barW:41, barTop:1964, barH:204, labelX:1368},
  {left:1547,wide:1239, top:1744, tall:610, barX:2863, barW:40, barTop:1973, barH:205, labelX:2918}
];
const NS = "http://www.w3.org/2000/svg";

function fillFor(fraction){
  const t = Math.max(0, Math.min(1, fraction)) * (palette.length - 1);
  const i = Math.min(Math.floor(t), palette.length - 2);
  const f = t - i;
  const c = palette[i].map((v, k) => Math.round(v + (palette[i + 1][k] - v) * f));
  return "rgb(" + c.join(",") + ")";
}

function makeProjection(frame){
  const kx = frame.wide / 369, ky = frame.tall / 139.1;
  return {
    x: lon => frame.left + (lon + 179) * kx,
    y: lat => frame.top + (83.6 - lat) * ky
  };
}

function ringsToPath(shape, proj){
  return shape.split("|").map(ring => "M" + ring.trim().split(/\s+/).map(p => {
    const c = p.split(",");
    return proj.x(+c[0]).toFixed(1) + " " + proj.y(+c[1]).toFixed(1);
  }).join("L") + "Z").join("");
}

function drawPanel(idx){
  const host = document.getElementById("panel-" + idx);
  const frame = panelLayout[idx], values = panelSeries[idx], max = domainMax[idx];
  const proj = makeProjection(frame);
  const map = document.createElementNS(NS, "g");
  
  
  map.setAttribute("stroke", "#808080");
  map.setAttribute("stroke-width", "3.4");
  map.setAttribute("stroke-linejoin", "round");
  map.setAttribute("style", "filter:blur(0.6px)");
  countries.forEach((name, i) => {
    const p = document.createElementNS(NS, "path");
    p.setAttribute("d", ringsToPath(countryShapes[i], proj));
    p.setAttribute("fill", fillFor(values[i] / max));
    
    
    map.appendChild(p);
  });
  const specks = document.createElementNS(NS, "path");
  specks.setAttribute("d", islandSpecks.split(" ").map(p => {
    const c = p.split(",");
    return "M" + proj.x(+c[0]).toFixed(1) + " " + proj.y(+c[1]).toFixed(1) + "h1";
  }).join(""));
  specks.setAttribute("fill", "none");
  specks.setAttribute("stroke-width", "3");
  specks.setAttribute("stroke-linecap", "round");
  specks.setAttribute("stroke", "#8a8a8a");
  
  
  map.appendChild(specks);
  host.appendChild(map);

  const legend = document.createElementNS(NS, "g");
  
  
  const bar = document.createElementNS(NS, "rect");
  bar.setAttribute("x", frame.barX);
  bar.setAttribute("y", frame.barTop);
  bar.setAttribute("width", frame.barW);
  bar.setAttribute("height", frame.barH);
  bar.setAttribute("fill", "url(#rdylbu)");
  
  
  legend.appendChild(bar);
  const tickY = v => frame.barTop + frame.barH * (1 - v / max);
  tickValues[idx].forEach((v, i) => {
    const y = tickY(v);
    [[frame.barX, frame.barX + 8], [frame.barX + frame.barW - 8, frame.barX + frame.barW]].forEach(seg => {
      const l = document.createElementNS(NS, "line");
      l.setAttribute("x1", seg[0]);
      l.setAttribute("x2", seg[1]);
      l.setAttribute("y1", y);
      l.setAttribute("y2", y);
      l.setAttribute("stroke", "#fff");
      l.setAttribute("stroke-opacity", "0.6");
      l.setAttribute("stroke-width", "1.5");
      
      
      legend.appendChild(l);
    });
    const t = document.createElementNS(NS, "text");
    t.setAttribute("class", "tick");
    t.setAttribute("x", frame.labelX);
    t.setAttribute("y", y + 8);
    
    
    t.textContent = tickLabels[idx][i];
    legend.appendChild(t);
  });
  host.appendChild(legend);
}
panelLayout.forEach((_, i) => drawPanel(i));
</script>
</body>
</html>
